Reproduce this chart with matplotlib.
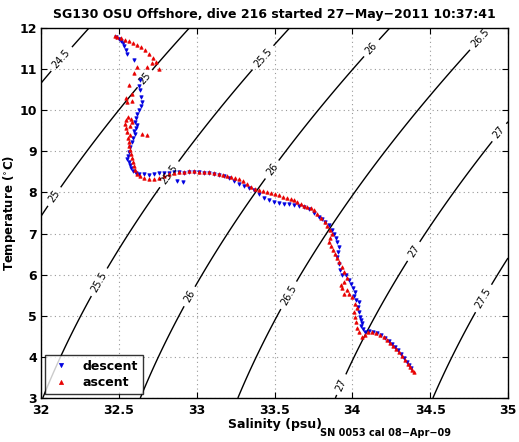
import numpy as np
import matplotlib
matplotlib.use("Agg")
import matplotlib.pyplot as plt

plt.rcParams['font.family'] = ['DejaVu Sans']

# ---- data (pixel coords converted to data units) ----
def px2s(x):
    return 32 + (np.asarray(x, float) - 42) / 155.6

def px2t(y):
    return 3 + (396 - np.asarray(y, float)) / 41.1

descent_x = [117,120,122,124,125,127,128,135,141,140,141,142,143,142,140,138,137,136,138,137,135,136,134,133,131,
             130,129,128,130,131,132,134,137,140,145,150,155,160,165,170,175,180,178,184,185,190,195,200,205,210,
             215,220,225,230,235,240,245,250,255,260,265,270,275,280,285,290,295,300,305,310,315,320,323,326,330,
             333,335,337,338,340,339,338,340,341,343,347,350,352,354,356,355,357,360,359,360,361,362,363,362,364,
             366,370,374,378,382,386,390,393,396,399,402,405,408,410,412]
descent_y = [35,37,39,41,44,48,52,58,78,84,88,95,100,104,108,112,116,120,123,126,129,132,136,140,145,
             150,154,157,160,163,166,169,171,172,172,173,172,171,171,171,170,170,179,180,171,170,170,170,171,171,
             172,173,174,176,179,182,184,186,188,192,196,198,200,201,202,202,203,204,205,207,211,215,217,220,223,
             228,232,236,240,245,250,255,262,268,273,273,278,282,286,290,294,298,300,305,310,315,318,321,324,327,
             330,329,330,331,333,336,339,342,345,348,352,356,360,363,366]

ascent_x = [415,413,411,409,406,403,400,397,394,391,388,385,381,377,373,369,366,363,360,358,357,356,355,358,356,
            353,350,348,345,343,342,345,348,345,343,340,338,336,334,332,330,331,333,331,328,326,322,318,315,312,
            308,305,302,298,295,292,288,284,280,276,272,268,264,260,256,252,248,244,240,236,232,228,224,220,215,
            210,205,200,195,190,185,180,175,170,165,160,155,150,145,141,138,136,135,134,133,132,131,130,130,129,
            131,128,127,126,127,129,132,133,131,143,148,128,127,133,133,130,135,138,148,153,160,157,154,150,146,
            142,138,134,130,126,122,118,116]
ascent_y = [370,368,365,362,358,354,350,347,344,341,338,335,333,331,330,330,333,335,330,326,320,315,310,306,302,
            295,292,288,292,286,283,280,276,270,265,260,256,252,248,244,240,236,232,228,224,220,216,212,208,206,
            205,204,202,200,198,197,196,195,193,192,191,190,189,188,187,185,182,179,177,176,175,174,173,172,171,
            170,170,170,169,169,170,170,171,172,174,176,177,177,176,174,172,168,164,160,156,152,148,144,140,136,
            133,130,126,122,118,115,117,120,124,132,133,100,96,99,92,83,71,65,65,61,67,60,56,52,48,
            45,43,41,39,38,36,35,34]

descent_S, descent_T = px2s(descent_x), px2t(descent_y)
ascent_S, ascent_T = px2s(ascent_x), px2t(ascent_y)

sigma_levels = [24.5, 25, 25.5, 26, 26.5, 27, 27.5]

# ---- density field (UNESCO EOS-80, p=0) ----
def sigma0(S, T):
    rw = (999.842594 + 6.793952e-2*T - 9.095290e-3*T**2 + 1.001685e-4*T**3
          - 1.120083e-6*T**4 + 6.536332e-9*T**5)
    A = 8.24493e-1 - 4.0899e-3*T + 7.6438e-5*T**2 - 8.2467e-7*T**3 + 5.3875e-9*T**4
    B = -5.72466e-3 + 1.0227e-4*T - 1.6546e-6*T**2
    C = 4.8314e-4
    return rw + A*S + B*S**1.5 + C*S**2 - 1000.0

fig = plt.figure(figsize=(5.19, 4.42), dpi=100)
ax = fig.add_axes([41/519, 1-398/442, 467/519, 370/442])

sg, tg = np.meshgrid(np.linspace(32, 35, 300), np.linspace(3, 12, 300))
cs = ax.contour(sg, tg, sigma0(sg, tg), levels=sigma_levels, colors='k', linewidths=1.0)
label_pos = [(32.1, 11.35), (32.66, 10.79), (32.07, 7.94), (33.42, 11.3), (32.82, 8.45),
             (32.28, 6.02), (34.15, 11.42), (33.48, 8.57), (32.94, 5.5), (34.92, 11.42),
             (33.59, 5.5), (34.38, 6.6), (33.92, 3.34), (34.94, 9.47), (34.88, 5.34)]
ax.clabel(cs, fmt='%g', fontsize=7, inline=True, manual=label_pos)

ax.plot(descent_S, descent_T, 'v', color='#0000e0', markersize=2.5, markeredgewidth=0.5,
        linestyle='none', label='descent')
ax.plot(ascent_S, ascent_T, '^', color='#e80000', markersize=2.5, markeredgewidth=0.5,
        linestyle='none', label='ascent')

ax.set_xlim(32, 35)
ax.set_ylim(3, 12)
ax.set_xticks(np.arange(32, 35.01, 0.5))
ax.set_xticklabels(['32', '32.5', '33', '33.5', '34', '34.5', '35'])
ax.set_yticks(range(3, 13))
ax.grid(True, linestyle=(0, (1, 3)), color='#999999', linewidth=0.8)
ax.tick_params(direction='in', labelsize=9, length=4, top=True, right=True)
ax.tick_params(axis='x', pad=4)
ax.tick_params(axis='y', pad=3)
for lbl in ax.get_xticklabels() + ax.get_yticklabels():
    lbl.set_fontweight('bold')
for sp in ax.spines.values():
    sp.set_linewidth(1.0)

ax.set_xlabel('Salinity (psu)', fontsize=9, fontweight='bold', labelpad=1)
ax.set_ylabel('Temperature ($^{\\circ}$C)', fontsize=8.5, fontweight='bold', labelpad=1)
ax.set_title('SG130 OSU Offshore, dive 216 started 27\u2212May\u22122011 10:37:41',
             fontsize=9, fontweight='bold', pad=7)
fig.text(320/519, 1-436/442, 'SN 0053 cal 08\u2212Apr\u221209', fontsize=7, fontweight='bold')

leg = ax.legend(loc='lower left', prop={'weight': 'bold', 'size': 9},
                frameon=True, fancybox=False, edgecolor='k', markerscale=1.2,
                borderaxespad=0.3, handletextpad=0.8, labelspacing=0.3, handlelength=1.8)
leg.get_frame().set_linewidth(1.0)

fig.savefig('out.png', dpi=100)
